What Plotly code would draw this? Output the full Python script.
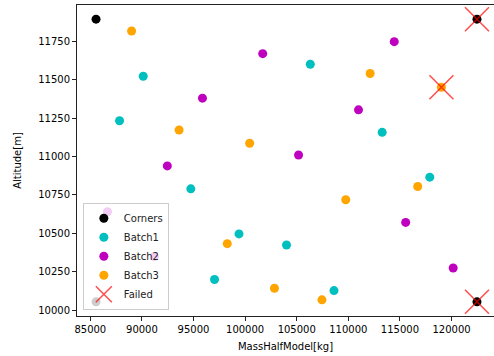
import plotly.graph_objects as go

corners_x = [85555, 85555, 122463, 122463]
corners_y = [10056, 11892, 10056, 11892]

batch1_x = [90127, 87831, 106314, 113279, 117890, 94738, 99407, 97034, 104009, 108610]
batch1_y = [11521, 11232, 11599, 11157, 10866, 10790, 10497, 10201, 10425, 10129]

batch2_x = [95866, 92461, 101703, 114447, 110984, 105176, 86663, 91197, 115556, 120157]
batch2_y = [11379, 10939, 11668, 11746, 11303, 11010, 10641, 10350, 10572, 10276]

batch3_x = [88998, 93600, 100438, 112112, 119019, 98269, 116723, 109748, 102841, 107443]
batch3_y = [11815, 11172, 11086, 11539, 11450, 10434, 10805, 10719, 10144, 10069]

failed_x = [122463, 119019, 122463]
failed_y = [11892, 11450, 10056]

x_ticks = [85000, 90000, 95000, 100000, 105000, 110000, 115000, 120000]
y_ticks = [10000, 10250, 10500, 10750, 11000, 11250, 11500, 11750]

fig = go.Figure()
def pts(name, xs, ys, color):
    fig.add_trace(go.Scatter(x=xs, y=ys, mode="markers", name=name, cliponaxis=False,
                             marker=dict(color=color, size=9, line=dict(width=0))))

pts("Corners", corners_x, corners_y, "black")
pts("Batch1", batch1_x, batch1_y, "#00BFBF")
pts("Batch2", batch2_x, batch2_y, "#BF00BF")
pts("Batch3", batch3_x, batch3_y, "orange")
fig.add_trace(go.Scatter(x=failed_x, y=failed_y, mode="markers", name="Failed", cliponaxis=False,
                         marker=dict(symbol="x-thin-open", size=24, color="rgba(255,0,0,0.7)",
                                     line=dict(width=1.5, color="rgba(255,0,0,0.7)"))))

font = dict(family="DejaVu Sans", size=10, color="black")
fig.update_layout(
    width=494, height=356,
    margin=dict(l=77, r=0, t=5, b=40, autoexpand=False),
    paper_bgcolor="white", plot_bgcolor="white",
    font=font,
    showlegend=True,
    legend=dict(x=0.014, y=0.02, xanchor="left", yanchor="bottom",
                bgcolor="rgba(255,255,255,0.8)", bordercolor="#cccccc", borderwidth=1,
                font=dict(family="DejaVu Sans", size=10, color="#222"),
                tracegroupgap=0, itemsizing="trace"),
    xaxis=dict(range=[83710, 124113], tickvals=x_ticks, ticktext=[str(v) for v in x_ticks],
               automargin=False,
               showgrid=False, zeroline=False, showline=True, linecolor="#222", linewidth=1,
               mirror=True, ticks="outside", ticklen=4, tickcolor="#222",
               title=dict(text="MassHalfModel[kg]", font=font, standoff=8)),
    yaxis=dict(range=[9964, 11984], tickvals=y_ticks, ticktext=[str(v) for v in y_ticks],
               automargin=False,
               showgrid=False, zeroline=False, showline=True, linecolor="#222", linewidth=1,
               mirror=False, ticks="outside", ticklen=4, tickcolor="#222",
               title=dict(text="Altitude[m]", font=font, standoff=14)),
)
fig.write_html("out.html", config={"displayModeBar": False},
               post_script="document.body.style.margin='0';document.body.style.overflow='hidden';")
